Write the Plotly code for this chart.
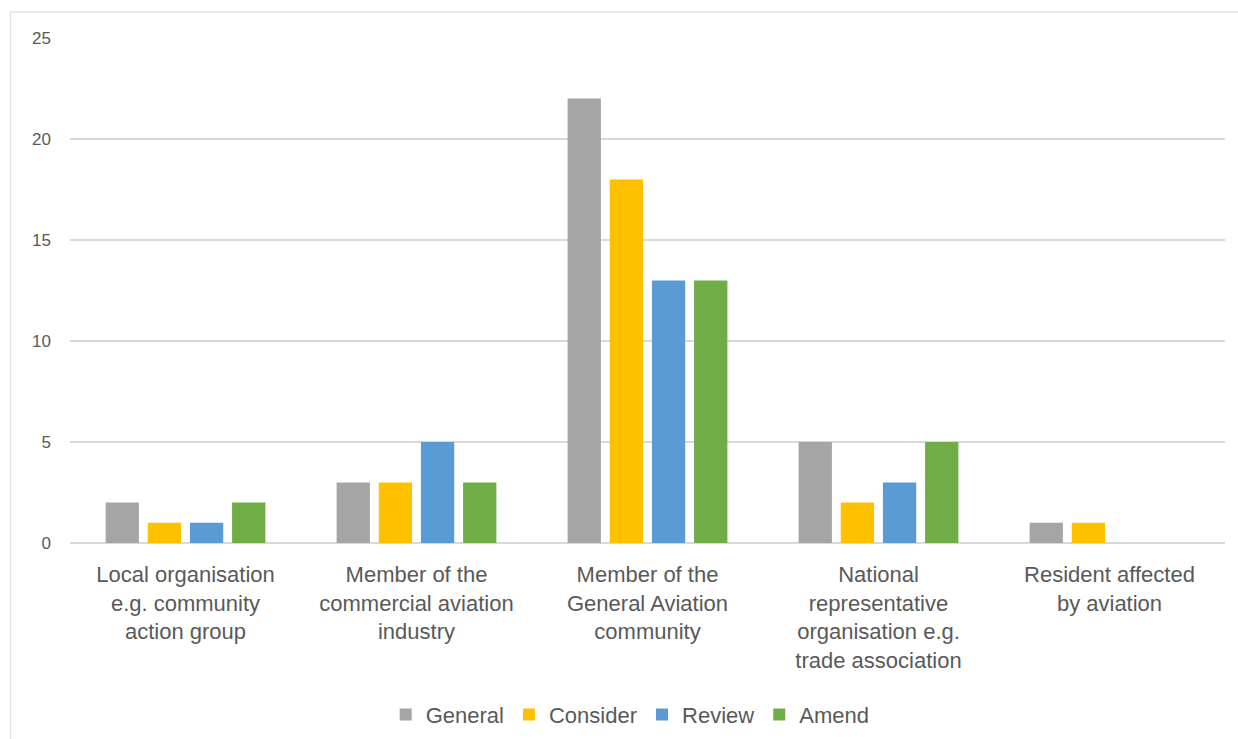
import plotly.graph_objects as go

# Respondent groups (x categories)
categories = [
    "Local organisation<br>e.g. community<br>action group",
    "Member of the<br>commercial aviation<br>industry",
    "Member of the<br>General Aviation<br>community",
    "National<br>representative<br>organisation e.g.<br>trade association",
    "Resident affected<br>by aviation",
]

# Response counts per series
general = [2, 3, 22, 5, 1]
consider = [1, 3, 18, 2, 1]
review = [1, 5, 13, 3, 0]
amend = [2, 3, 13, 5, 0]

series_names = ["General", "Consider", "Review", "Amend"]
series_colors = ["#A5A5A5", "#FFC000", "#5B9BD5", "#70AD47"]

y_ticks = [0, 5, 10, 15, 20, 25]

text_color = "#595959"
grid_color = "#D9D9D9"
font_family = "Liberation Sans, Arial, sans-serif"

fig = go.Figure()
for name, values, color in zip(series_names, [general, consider, review, amend], series_colors):
    fig.add_trace(go.Bar(
        name=name,
        x=categories,
        y=values,
        marker=dict(color=color, line=dict(width=0)),
    ))

# Light frame around the chart area
fig.add_shape(
    type="rect", xref="paper", yref="paper",
    x0=-0.0515, x1=1.05, y0=-0.6, y1=1.0515,
    line=dict(color="#E3E3E3", width=1.5),
    fillcolor="rgba(0,0,0,0)", layer="below",
)

fig.update_layout(
    width=1238,
    height=739,
    margin=dict(l=70, r=13, t=38, b=196, autoexpand=False),
    paper_bgcolor="white",
    plot_bgcolor="white",
    barmode="group",
    bargap=0.27,
    bargroupgap=0.21,
    font=dict(family=font_family, color=text_color),
    showlegend=True,
    legend=dict(
        orientation="h",
        x=0.485, xanchor="center",
        y=-0.34, yanchor="middle",
        font=dict(size=22, color=text_color),
        itemsizing="constant",
        itemwidth=30,
        traceorder="normal",
    ),
    xaxis=dict(
        showgrid=False,
        showline=False,
        zeroline=False,
        ticks="",
        automargin=False,
        tickfont=dict(size=22, color=text_color),
        ticklabelstandoff=16,
    ),
    yaxis=dict(
        range=[0, 25],
        tickvals=y_ticks,
        ticktext=[str(v) for v in y_ticks],
        showgrid=True,
        gridcolor=grid_color,
        gridwidth=1.5,
        zeroline=True,
        zerolinecolor=grid_color,
        zerolinewidth=1.5,
        showline=False,
        ticks="",
        automargin=False,
        tickfont=dict(size=17, color=text_color),
        ticklabelstandoff=18,
    ),
)

fig.write_html("out.html")
